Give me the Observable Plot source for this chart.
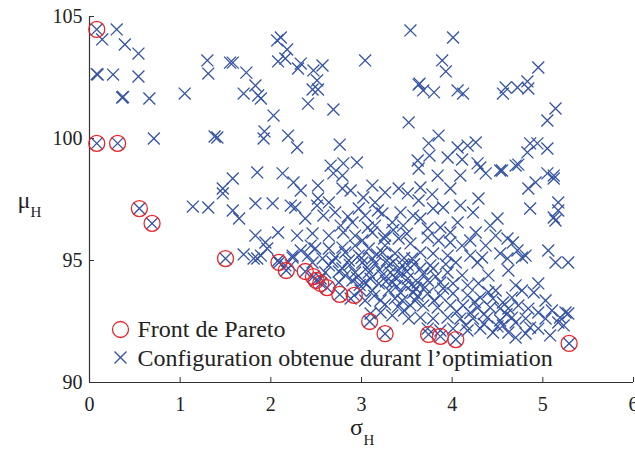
<!DOCTYPE html>
<html><head><meta charset="utf-8">
<script src="https://cdn.jsdelivr.net/npm/d3@7"></script>
<script src="https://cdn.jsdelivr.net/npm/@observablehq/plot@0.6"></script>
<style>body{margin:0;background:#fff} svg text{font-family:"Liberation Serif","Times New Roman",serif !important}</style>
</head><body><div id="chart"></div>
<script>
const xTicks = [0, 1, 2, 3, 4, 5, 6];
const yTicks = [90, 95, 100, 105];
const legendLabels = ["Front de Pareto", "Configuration obtenue durant l\u2019optimiation"];

// Pareto front (sigma_H, mu_H)
const paretoSigma = [0.08, 0.08, 0.31, 0.55, 0.69, 1.50, 2.09, 2.17, 2.38, 2.47, 2.50, 2.55, 2.62, 2.76, 2.92, 3.09, 3.26, 3.74, 3.87, 4.04, 5.29];
const paretoMu    = [104.47, 99.8, 99.8, 97.13, 96.52, 95.08, 94.92, 94.59, 94.55, 94.34, 94.18, 94.06, 93.89, 93.61, 93.57, 92.5, 92.0, 91.97, 91.89, 91.76, 91.6];

// Configurations obtained during optimisation [sigma_H, mu_H]
const configPoints = [
[0.30,104.47],[0.14,104.06],[0.39,103.85],[0.54,103.48],[0.09,102.62],[0.08,102.64],[0.26,102.62],[0.54,102.54],[0.36,101.68],[0.37,101.70],[0.66,101.64],[1.05,101.84],[1.30,103.2],[1.31,102.66],[1.55,103.11],[1.58,103.11],[1.73,102.7],[1.83,102.17],[1.70,101.84],[1.86,101.76],[1.89,101.64],[2.07,104.02],[2.08,103.16],[2.03,100.94],[0.71,100.0],[1.38,100.08],[1.41,100.04],[1.93,100.29],[1.92,100.0],[1.58,98.36],[1.85,98.61],[2.13,98.57],[1.47,97.95],
[3.54,104.43],[4.01,104.14],[3.04,103.2],[3.89,103.2],[3.93,102.75],[3.63,102.21],[3.64,102.25],[3.68,101.97],[3.80,101.89],[4.06,101.97],[2.11,104.14],[2.18,103.65],[2.16,103.28],[2.33,103.07],[2.30,102.87],[2.47,102.79],[2.57,102.99],[2.51,102.38],[2.46,102.01],[2.52,102.01],[2.41,101.43],[2.69,101.19],[3.52,100.66],[2.19,100.12],[2.29,99.63],[2.76,99.75],[3.85,100.12],[3.74,99.8],[3.75,99.3],[3.62,99.1],[3.63,98.77],[3.95,99.22],[4.06,99.63],[2.66,98.89],[2.80,98.98],[2.95,99.02],[2.69,98.57],[2.79,98.48],[3.84,98.48],
[4.12,101.84],[4.56,101.84],[4.59,102.09],[4.72,102.09],[4.83,102.34],[4.84,102.05],[4.95,102.91],[5.14,101.23],[5.05,100.74],[4.17,99.71],[4.26,99.84],[4.11,99.14],[4.28,98.98],[4.31,98.81],[4.37,98.57],[4.55,98.69],[4.70,98.89],[4.73,98.93],[4.83,99.43],[4.86,99.8],[4.94,99.8],[5.05,99.59],[5.05,98.57],[5.12,98.48],[4.09,98.48],
[5.12,98.36],[4.92,98.2],[4.84,97.95],[4.86,97.13],[5.17,97.38],[5.17,97.05],[5.12,96.76],[5.14,96.64],[4.67,95.74],[4.72,95.41],[4.81,95.2],[4.77,95.12],[4.61,95.08],[5.06,95.41],[5.14,94.92],[5.28,94.92],[4.95,94.06],[4.77,93.77],[4.90,93.69],[4.66,93.48],[5.03,93.36],[4.73,93.16],[4.62,93.03],[4.84,93.03],[4.95,92.87],[5.10,92.95],[5.25,92.87],[5.28,92.83],[4.66,92.66],[4.70,92.46],[4.81,92.62],[5.03,92.62],[5.17,92.46],[5.23,92.34],[4.86,92.25],[4.95,92.21],[4.62,92.05],[4.81,92.01],[5.08,91.93],[4.70,91.84],[5.19,92.66],
[1.14,97.21],[1.31,97.17],[1.47,97.75],[1.58,97.05],[1.65,96.72],[1.83,97.34],[2.02,97.34],[2.22,97.25],[1.83,96.02],[1.94,95.74],[2.08,96.15],[1.70,95.25],[1.81,95.08],[1.85,95.08],[1.89,95.2],[1.96,95.49],[2.08,95.0],[2.16,94.8],[2.24,95.12],
[2.25,98.2],[2.52,98.07],[2.79,97.95],[2.27,97.17],[2.52,97.54],[2.51,97.25],[2.64,97.38],[2.71,96.97],[2.58,96.84],[3.02,97.58],[3.15,97.38],[3.26,97.79],[3.41,97.95],[2.38,96.72],[2.29,96.02],[2.46,96.11],[2.64,96.02],[2.80,96.15],[2.90,96.56],[2.97,97.13],[3.04,96.84],[3.23,96.93],[3.34,96.56],[3.43,96.97],[3.12,96.15],[3.26,96.02],[3.41,95.9],[2.49,95.49],[2.64,95.49],[2.79,95.53],[2.93,95.61],[3.08,95.49],[3.23,95.33],[3.37,95.29],[2.41,95.2],[2.57,95.08],[2.71,95.12],[2.86,95.0],[3.01,94.92],[3.15,94.88],[3.30,94.8],[3.45,94.8],[2.24,95.2],[2.22,94.8],[2.64,94.8],[2.79,94.67],[2.93,94.51],[3.08,94.51],[3.23,94.39],[3.37,94.3],[2.90,94.18],[3.04,94.1],[3.19,94.06],[3.34,94.1],[2.75,94.1],[3.10,92.83],[3.34,92.75],
[4.53,98.69],[3.65,97.99],[3.51,97.75],[3.79,97.13],[3.90,97.17],[4.23,96.97],[4.50,96.72],[3.57,96.84],[3.65,96.72],[4.06,96.56],[4.26,96.15],[4.48,96.02],[3.46,96.43],[3.73,96.31],[3.87,96.35],[3.98,96.15],[3.73,95.94],[3.85,95.82],[3.98,95.74],[4.11,95.61],[3.54,95.7],[3.65,95.33],[3.79,95.29],[3.95,95.2],[4.20,95.2],[4.33,95.12],[4.53,95.29],[4.61,95.9],[4.28,94.92],[3.51,94.8],[3.65,94.67],[3.79,94.67],[3.95,94.51],[3.51,94.26],[3.62,94.1],[3.73,94.18],[3.87,94.1],[4.01,94.06],[4.17,93.98],[4.29,94.06],[3.43,93.69],[3.57,93.69],[3.73,93.65],[3.87,93.57],[4.01,93.65],[4.17,93.57],[4.31,93.48],[4.45,93.44],[4.56,93.28],[3.54,93.16],[3.68,93.16],[3.84,93.07],[3.98,93.16],[4.12,93.16],[4.28,93.07],[4.42,93.07],[4.53,93.03],[3.65,92.66],[3.79,92.62],[3.95,92.66],[4.09,92.62],[4.23,92.62],[4.39,92.66],[4.53,92.54],[3.73,92.21],[3.87,92.13],[4.01,92.21],[4.17,92.13],[4.31,92.21],[4.45,92.05],[4.56,92.34],
[2.46,94.92],[2.60,94.51],[2.82,94.39],[2.99,93.77],[3.12,93.77],[3.30,93.77],[3.21,93.36],[3.37,93.44],[3.48,93.98],[3.32,94.51],[3.56,95.08],[2.82,95.33],[2.97,95.2],[3.12,95.08],[3.26,95.61],[2.93,96.02],[2.77,96.43],[3.15,96.43],[3.01,95.82],[3.41,94.59],[2.55,94.26],[2.44,95.61],[2.33,95.41],[2.88,93.44],[3.04,93.36],[3.21,92.87],[3.45,93.36],[3.59,93.36],[3.52,92.62],[4.04,94.92],[4.11,94.39],[4.40,94.39],[4.48,93.77],[4.37,95.61],[4.62,94.59],[4.70,93.98],[4.20,95.82],[4.42,96.43],[4.09,97.25],[4.29,97.54],[3.78,97.71],[3.98,97.95],[3.63,97.46],[2.33,97.87],[2.88,97.87],[3.12,98.07],
[2.68,94.95],[2.75,94.55],[2.87,94.82],[2.95,94.3],[3.00,95.1],[3.06,94.7],[3.10,94.25],[3.17,95.25],[3.20,94.62],[3.27,94.15],[3.28,95.0],[3.35,94.95],[3.39,93.95],[3.43,94.4],[3.47,95.1],[3.50,94.55],[3.55,94.0],[3.58,94.85],[3.60,93.85],[3.68,94.45],[3.70,93.9],[3.76,94.8],[3.82,94.35],[3.90,93.85],[3.93,94.85],[2.98,94.0],[3.14,93.55],[3.26,93.2],[3.40,93.1],[3.62,93.55],[3.80,93.35],[3.47,92.95],[3.25,95.9],[3.50,96.1],[3.35,96.25],[3.07,96.35],[2.85,96.8],[3.18,97.05],
[4.05,92.9],[4.20,92.85],[4.35,92.8],[4.25,93.3],[4.40,93.7],[4.60,92.8],[4.15,92.35],[4.35,92.4],[4.50,92.3]
];

const pareto = paretoSigma.map((s, i) => ({sigma: s, mu: paretoMu[i]}));
const crosses = configPoints.map(([s, m]) => ({sigma: s, mu: m})).concat(pareto);

const BLUE = "#3352a6";
const RED = "#e8262c";
const INK = "#222";
const FONT = "Liberation Serif";

const chart = Plot.plot({
  width: 635,
  height: 449,
  marginLeft: 89,
  marginRight: 2,
  marginTop: 16,
  marginBottom: 67,
  style: {fontFamily: FONT, fontSize: "20px", color: INK, background: "#fff", overflow: "visible"},
  x: {domain: [0, 6], axis: null},
  y: {domain: [90, 105], axis: null},
  marks: [
    Plot.ruleX([0], {stroke: "#333", strokeWidth: 1.2}),
    Plot.ruleY([90], {stroke: "#333", strokeWidth: 1.2}),
    Plot.axisX(xTicks, {tickSize: -5, tickFormat: () => "", stroke: "#333", label: null}),
    Plot.axisY(yTicks, {tickSize: -5, tickFormat: () => "", stroke: "#333", label: null}),
    Plot.axisX(xTicks, {tickSize: 0, tickPadding: 14, fontSize: 20, fontFamily: FONT, fill: INK, label: null}),
    Plot.axisY(yTicks, {tickSize: 0, tickPadding: 7, fontSize: 20, fontFamily: FONT, fill: INK, label: null}),
    Plot.dot(crosses, {x: "sigma", y: "mu", symbol: "times", r: 5.5, stroke: BLUE, strokeWidth: 1.3}),
    Plot.dot(pareto, {x: "sigma", y: "mu", symbol: "circle", r: 8, stroke: RED, strokeWidth: 1.3, fill: "none"}),
    // axis labels
    Plot.text(["\u03c3"], {frameAnchor: "bottom", text: d => d, dx: -5, dy: 52, lineAnchor: "bottom", fontSize: 24, fontFamily: FONT, fill: INK}),
    Plot.text(["H"], {frameAnchor: "bottom", text: d => d, textAnchor: "start", dx: 2, dy: 62, lineAnchor: "bottom", fontSize: 15, fontFamily: FONT, fill: INK}),
    Plot.text(["\u03bc"], {frameAnchor: "left", text: d => d, textAnchor: "start", dx: -72, dy: 8, lineAnchor: "bottom", fontSize: 24, fontFamily: FONT, fill: INK}),
    Plot.text(["H"], {frameAnchor: "left", text: d => d, textAnchor: "start", dx: -59, dy: 17, lineAnchor: "bottom", fontSize: 15, fontFamily: FONT, fill: INK}),
    // legend
    Plot.dot([legendLabels[0]], {frameAnchor: "bottom-left", dx: 31, dy: -53, symbol: "circle", r: 8, stroke: RED, strokeWidth: 1.3, fill: "none"}),
    Plot.dot([legendLabels[1]], {frameAnchor: "bottom-left", dx: 31, dy: -25, symbol: "times", r: 5.5, stroke: BLUE, strokeWidth: 1.3}),
    Plot.text([legendLabels[0]], {frameAnchor: "bottom-left", text: d => d, textAnchor: "start", dx: 48, dy: -46, lineAnchor: "bottom", fontSize: 24, fontFamily: FONT, fill: INK}),
    Plot.text([legendLabels[1]], {frameAnchor: "bottom-left", text: d => d, textAnchor: "start", dx: 48, dy: -17, lineAnchor: "bottom", fontSize: 24, fontFamily: FONT, fill: INK})
  ]
});
document.getElementById("chart").appendChild(chart);
</script>
</body></html>
